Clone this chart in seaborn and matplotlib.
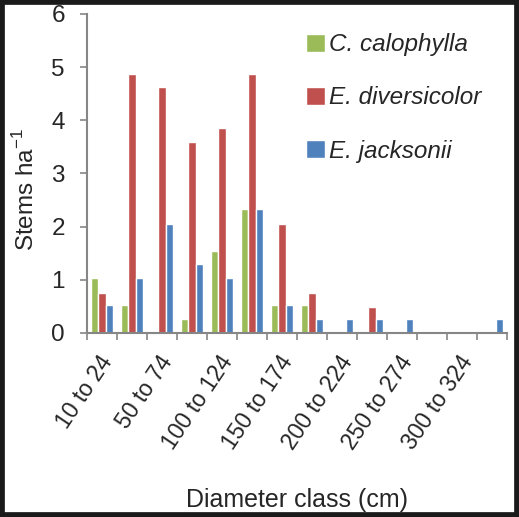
import pandas as pd
import numpy as np
import matplotlib
matplotlib.use('Agg')
import matplotlib.pyplot as plt
import matplotlib.transforms as mtransforms
import seaborn as sns
from matplotlib.patches import Rectangle

# Diameter classes (25 cm steps)
classes = ['10 to 24', '25 to 49', '50 to 74', '75 to 99', '100 to 124', '125 to 149',
           '150 to 174', '175 to 199', '200 to 224', '225 to 249', '250 to 274',
           '275 to 299', '300 to 324', '325 to 349']
species = ['C. calophylla', 'E. diversicolor', 'E. jacksonii']

calophylla = [1.03, 0.52, 0.0, 0.26, 1.55, 2.33, 0.52, 0.52, 0.0, 0.0, 0.0, 0.0, 0.0, 0.0]
diversicolor = [0.75, 4.87, 4.62, 3.6, 3.86, 4.87, 2.05, 0.75, 0.0, 0.49, 0.0, 0.0, 0.0, 0.0]
jacksonii = [0.52, 1.03, 2.05, 1.29, 1.03, 2.33, 0.52, 0.26, 0.26, 0.26, 0.26, 0.0, 0.0, 0.26]

colores = ['#9BBB59', '#C0504D', '#4F81BD']

df = pd.DataFrame({
    'clase': classes * 3,
    'especie': np.repeat(species, len(classes)),
    'valor': calophylla + diversicolor + jacksonii,
})

sns.set_style('white')
plt.rcParams['font.family'] = ['Liberation Sans', 'DejaVu Sans']
plt.rcParams['mathtext.fontset'] = 'custom'
plt.rcParams['mathtext.rm'] = 'Liberation Sans'

fig = plt.figure(figsize=(5.19, 5.17), dpi=100)
ax = fig.add_axes([0.168, 0.356, 0.809, 0.617])

sns.barplot(data=df, x='clase', y='valor', hue='especie', order=classes,
            hue_order=species, palette=colores, width=0.75, gap=0,
            saturation=1, ax=ax, errorbar=None)

ax.set_ylim(0, 6)
ax.set_xlim(-0.5, len(classes) - 0.5)
ax.set_yticks(range(7))
ax.tick_params(axis='y', labelsize=17.5, length=5, width=1.2, color='#868686',
               direction='out', left=True, pad=11)

# etiquetas cada dos clases, marcas en los bordes
ax.set_xticks(range(len(classes)))
ax.set_xticklabels([c if i % 2 == 0 else '' for i, c in enumerate(classes)],
                   rotation=56, ha='right', va='center', rotation_mode='anchor', fontsize=16.5)
ax.tick_params(axis='x', which='major', length=0, pad=18)
desplaza = mtransforms.ScaledTranslation(4 / 72, 0, fig.dpi_scale_trans)
for lbl in ax.get_xticklabels():
    lbl.set_transform(lbl.get_transform() + desplaza)
ax.set_xticks(np.arange(-0.5, len(classes)), minor=True)
ax.tick_params(axis='x', which='minor', length=5, width=1.2, color='#868686',
               direction='out', bottom=True)

for s in ['top', 'right']:
    ax.spines[s].set_visible(False)
for s in ['left', 'bottom']:
    ax.spines[s].set_color('#868686')
    ax.spines[s].set_linewidth(1.5)

ax.set_xlabel('Diameter class (cm)', fontsize=18)
ax.xaxis.set_label_coords(0.5, -0.485)
ax.set_ylabel('Stems ha$^{\\mathregular{-1}}$', fontsize=17.5)
ax.yaxis.set_label_coords(-0.115, 0.45)

leg = ax.legend(loc='upper left', bbox_to_anchor=(0.52, 0.94), frameon=False,
                fontsize=17.5, handlelength=0.8, handleheight=0.75, handletextpad=0.15,
                labelspacing=1.25, borderpad=0, borderaxespad=0)
for t in leg.get_texts():
    t.set_style('italic')

fig.patches.append(Rectangle((0, 0), 1, 1, transform=fig.transFigure, fill=False,
                             edgecolor='#1a1a1a', linewidth=7, zorder=10))

plt.savefig('out.png', dpi=100)
